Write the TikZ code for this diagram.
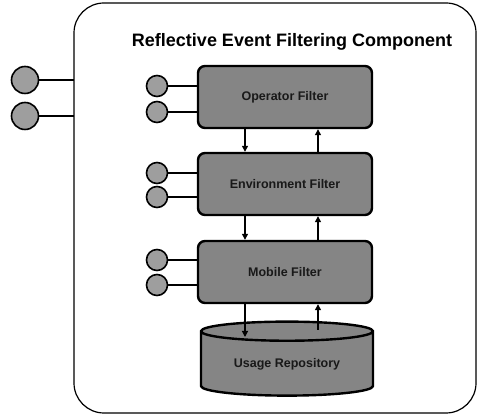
\documentclass[tikz,border=0pt]{standalone}
\usepackage{fontspec}
\setmainfont{Liberation Sans}
\usetikzlibrary{shapes.geometric,arrows.meta}
\begin{document}
\begin{tikzpicture}[x=1pt,y=-1pt,
  filterbox/.style={draw=black,line width=2.4pt,fill=black!48,rounded corners=7pt,minimum width=174pt,minimum height=62pt,font=\bfseries\fontsize{12.5}{15}\selectfont,text=black!90,inner sep=0pt},
  port/.style={circle,draw=black,line width=1.6pt,fill=black!38,minimum size=21pt,inner sep=0pt},
  wire/.style={line width=1.1pt},
  flow/.style={line width=1.2pt,-{Triangle[length=6pt,width=6pt]}}]
\useasboundingbox (0,0) rectangle (480,419);
% outer component
\node[draw=black,line width=1.2pt,rounded corners=30pt,minimum width=402pt,minimum height=410pt,inner sep=0pt] (comp) at (275,208) {};
\node[font=\bfseries\fontsize{18}{21}\selectfont] (title) at (292,42) {Reflective Event Filtering Component};
% filters
\node[filterbox] (f1) at (285,97) {Operator Filter};
\node[filterbox] (f2) at (285,184) {Environment Filter};
\node[filterbox] (f3) at (285,272) {Mobile Filter};
\node[cylinder,shape border rotate=90,aspect=0.18,draw=black,line width=2.4pt,fill=black!48,minimum width=172pt,minimum height=74pt,font=\bfseries\fontsize{12.5}{15}\selectfont,text=black!90,inner sep=0pt] (repo) at (287,364) {Usage Repository};
% external ports
\node[port,minimum size=27pt] (e1) at (25,80) {};
\node[port,minimum size=27pt] (e2) at (25,116) {};
\coordinate (b1) at (74,80);
\coordinate (b2) at (74,116);
\draw[wire] (e1) -- (b1);
\draw[wire] (e2) -- (b2);
% internal ports
\node[port] (p11) at (157,86) {};
\node[port] (p12) at (157,112) {};
\node[port] (p21) at (157,173) {};
\node[port] (p22) at (157,197) {};
\node[port] (p31) at (157,260) {};
\node[port] (p32) at (157,285) {};
\draw[wire] (p11) -- (p11 -| f1.west);
\draw[wire] (p12) -- (p12 -| f1.west);
\draw[wire] (p21) -- (p21 -| f2.west);
\draw[wire] (p22) -- (p22 -| f2.west);
\draw[wire] (p31) -- (p31 -| f3.west);
\draw[wire] (p32) -- (p32 -| f3.west);
% flows
\draw[flow] (f1.south -| 245,0) -- (f2.north -| 245,0);
\draw[flow] (f2.north -| 318,0) -- (f1.south -| 318,0);
\draw[flow] (f2.south -| 245,0) -- (f3.north -| 245,0);
\draw[flow] (f3.north -| 318,0) -- (f2.south -| 318,0);
\draw[flow] (f3.south -| 245,0) -- (245,337);
\draw[flow] (318,330) -- (f3.south -| 318,0);
\end{tikzpicture}
\end{document}
